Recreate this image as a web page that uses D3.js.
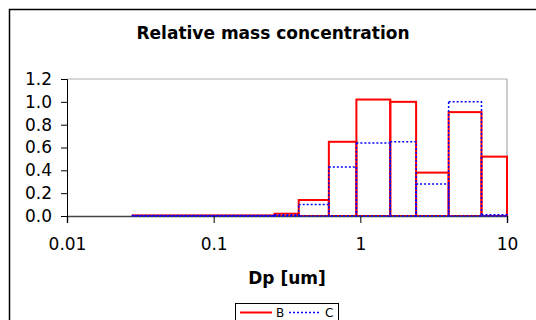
<!DOCTYPE html>
<html>
<head>
<meta charset="utf-8">
<script src="https://cdn.jsdelivr.net/npm/d3@7"></script>
<style>
  body { margin: 0; background: #fff; }
  svg { display: block; font-family: "DejaVu Sans", sans-serif; }
</style>
</head>
<body>
<svg width="536" height="320"></svg>
<script>
var WIDTH = 536;
var HEIGHT = 320;
var FONT = '"DejaVu Sans", sans-serif';

// bin edges of the size classes (um)
var edges = [0.028, 0.26, 0.38, 0.61, 0.94, 1.6, 2.4, 4.0, 6.7, 10];
// relative mass per bin
var seriesB = [0.005, 0.02, 0.14, 0.65, 1.02, 1.0, 0.38, 0.91, 0.52];
var seriesC = [0.005, 0.01, 0.10, 0.43, 0.64, 0.65, 0.28, 1.0, 0.01];
var xTicks = [0.01, 0.1, 1, 10];
var yTicks = [0, 0.2, 0.4, 0.6, 0.8, 1.0, 1.2];

var svg = d3.select('svg');

// outer chart frame (runs past the picture on the right and bottom)
svg.append('rect')
  .attr('x', 9.5)
  .attr('y', 9.5)
  .attr('width', 600)
  .attr('height', 400)
  .attr('fill', 'none')
  .attr('stroke', '#000')
  .attr('stroke-width', 1.5);

var xScale = d3.scaleLog().domain([0.01, 10]).range([67, 507]);
var yScale = d3.scaleLinear().domain([0, 1.2]).range([216, 79]);

// top gridline and right edge of plot
svg.append('line')
  .attr('x1', xScale(0.01)).attr('x2', xScale(10))
  .attr('y1', yScale(1.2)).attr('y2', yScale(1.2))
  .attr('stroke', '#b0b0b0').attr('stroke-width', 1);
svg.append('line')
  .attr('x1', xScale(10)).attr('x2', xScale(10))
  .attr('y1', yScale(1.2)).attr('y2', yScale(0))
  .attr('stroke', '#999').attr('stroke-width', 1);

var bins = function(values) {
  return values.map(function(v, i) {
    return { x0: edges[i], x1: edges[i + 1], v: v };
  });
};

var drawSeries = function(values, cls, color, width, dash) {
  svg.append('g').attr('class', cls)
    .selectAll('rect')
    .data(bins(values))
    .enter()
    .append('rect')
    .attr('x', function(d) { return xScale(d.x0); })
    .attr('width', function(d) { return xScale(d.x1) - xScale(d.x0); })
    .attr('y', function(d) { return yScale(d.v); })
    .attr('height', function(d) { return yScale(0) - yScale(d.v); })
    .attr('fill', 'none')
    .attr('stroke', color)
    .attr('stroke-width', width)
    .attr('stroke-dasharray', dash);
};

// axes
var leftAxis = d3.axisLeft(yScale)
  .tickValues(yTicks)
  .tickFormat(d3.format('.1f'))
  .tickSizeOuter(0)
  .tickSize(6);
var yAxis = svg.append('g')
  .attr('transform', 'translate(' + xScale(0.01) + ',0)')
  .call(leftAxis);
yAxis.select('.domain').attr('stroke', '#000');
yAxis.selectAll('text')
  .attr('font-size', 17)
  .attr('fill', '#000')
  .attr('x', -15)
  .attr('font-family', FONT);

drawSeries(seriesB, 'b', '#ff0000', 2, null);

var bottomAxis = d3.axisBottom(xScale)
  .tickValues(xTicks)
  .tickFormat(d3.format('~g'))
  .tickSizeOuter(0)
  .tickSize(7);
var xAxis = svg.append('g')
  .attr('transform', 'translate(0,' + yScale(0) + ')')
  .call(bottomAxis);
xAxis.select('.domain').attr('stroke', '#444').attr('stroke-width', 1.5);
xAxis.selectAll('text')
  .attr('font-size', 17)
  .attr('fill', '#000')
  .attr('y', 22)
  .attr('font-family', FONT);

drawSeries(seriesC, 'c', '#0000ff', 1.5, '2,2');

// titles
svg.append('text')
  .attr('x', 273)
  .attr('y', 39)
  .attr('text-anchor', 'middle')
  .attr('font-size', 17)
  .attr('font-weight', 'bold')
  .text('Relative mass concentration');

svg.append('text')
  .attr('x', 287)
  .attr('y', 284)
  .attr('text-anchor', 'middle')
  .attr('font-size', 17)
  .attr('font-weight', 'bold')
  .text('Dp [um]');

// legend
var legend = svg.append('g').attr('transform', 'translate(235,303)');
legend.append('rect')
  .attr('x', 0.5).attr('y', 0.5)
  .attr('width', 103).attr('height', 30)
  .attr('fill', '#fff')
  .attr('stroke', '#000');
var legendItems = [
  { name: 'B', color: '#ff0000', dash: null, width: 2 },
  { name: 'C', color: '#0000ff', dash: '2,2', width: 1.5 }
];
legendItems.forEach(function(item, i) {
  var ox = 5 + i * 49;
  legend.append('line')
    .attr('x1', ox).attr('x2', ox + 32)
    .attr('y1', 9.5).attr('y2', 9.5)
    .attr('stroke', item.color)
    .attr('stroke-width', item.width)
    .attr('stroke-dasharray', item.dash);
  legend.append('text')
    .attr('x', ox + 36)
    .attr('y', 14)
    .attr('font-size', 12)
    .text(item.name);
});
</script>
</body>
</html>
